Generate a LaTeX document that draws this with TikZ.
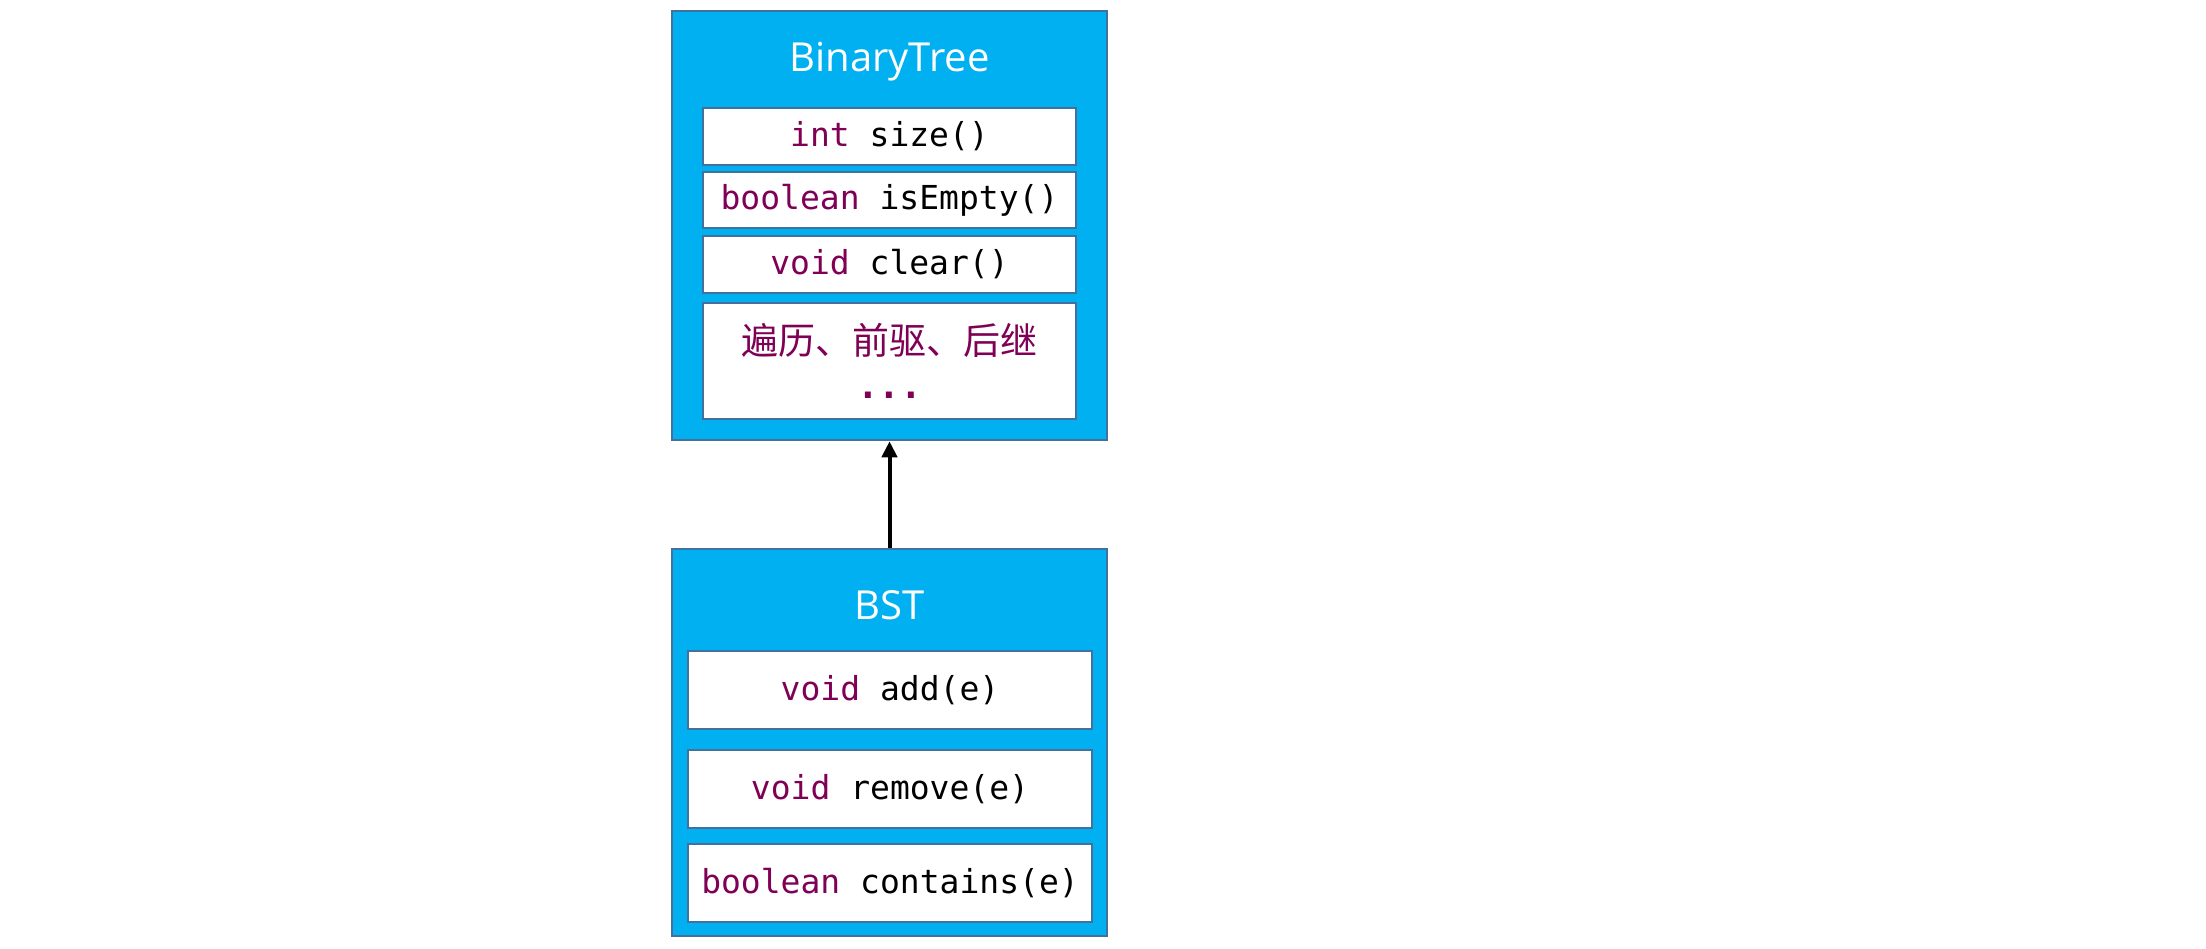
\documentclass[tikz,border=0pt]{standalone}
\usepackage{fontspec}
\setsansfont{Open Sans}
\setmonofont{DejaVu Sans Mono}
\newfontfamily\cjk{Noto Sans CJK SC}
\usetikzlibrary{arrows.meta}
\definecolor{boxblue}{HTML}{00B0F0}
\definecolor{edgeblue}{HTML}{41719C}
\definecolor{kw}{HTML}{7F0055}
\newcommand{\kwd}[1]{\textcolor{kw}{#1}}
\tikzset{
  outerbox/.style={draw=edgeblue, line width=2.5pt, fill=boxblue, inner sep=0pt},
  titletext/.style={text=white, font=\sffamily\fontsize{40}{44}\selectfont, inner sep=0pt},
  method/.style={draw=edgeblue, line width=2.5pt, fill=white, inner sep=0pt, align=center,
    font=\ttfamily\fontsize{33}{40}\selectfont},
  link/.style={line width=4pt, -{Triangle[length=16pt, width=15pt]}}
}
\begin{document}
\begin{tikzpicture}[x=1pt, y=-1pt]
\useasboundingbox (0,0) rectangle (2206,948);
% BinaryTree
\node[outerbox, minimum width=435pt, minimum height=429pt] (bt) at (889.5,225.5) {};
\node[titletext] (bttitle) at (889.5,62) {BinaryTree};
\node[method, minimum width=373pt, minimum height=57pt] (m1) at (889.5,136.5) {\kwd{int} size()};
\node[method, minimum width=373pt, minimum height=56pt] (m2) at (889.5,200) {\kwd{boolean} isEmpty()};
\node[method, minimum width=373pt, minimum height=57pt] (m3) at (889.5,264.5) {\kwd{void} clear()};
\node[method, minimum width=373pt, minimum height=116pt] (m4) at (889.5,361) {};
\node[text=kw, font=\cjk\fontsize{37}{44}\selectfont, inner sep=0pt] (m4a) at (889.5,340) {遍历、前驱、后继};
\node[text=kw, font=\ttfamily\bfseries\fontsize{36}{44}\selectfont, inner sep=0pt] (m4b) at (889.5,395) {...};
% BST
\node[outerbox, minimum width=435pt, minimum height=387pt] (bst) at (889.5,742.5) {};
\node[titletext] (bsttitle) at (889.5,605) {BST};
\node[method, minimum width=404pt, minimum height=78pt] (b1) at (890,690) {\kwd{void} add(e)};
\node[method, minimum width=404pt, minimum height=78pt] (b2) at (890,789) {\kwd{void} remove(e)};
\node[method, minimum width=404pt, minimum height=78pt] (b3) at (890,883) {\kwd{boolean} contains(e)};
% inheritance arrow
\draw[link] (bst.north) -- (bt.south);
\end{tikzpicture}
\end{document}
